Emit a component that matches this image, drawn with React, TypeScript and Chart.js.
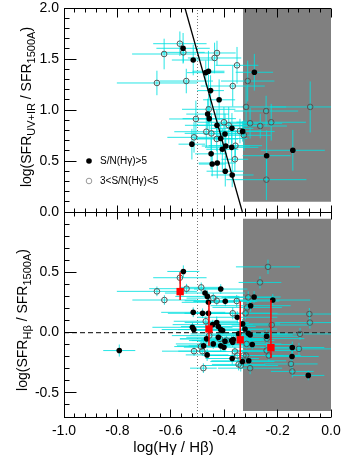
import React, { useEffect, useRef } from 'react';
import { Chart, registerables } from 'chart.js';

Chart.register(...registerables);

const FONT = '"Liberation Sans", Arial, Helvetica, sans-serif';

// ---------- axes ----------
const X_RANGE = [-1.0, 0.0];
const X_TICKS = [-1.0, -0.8, -0.6, -0.4, -0.2, 0.0];
const TOP_Y_RANGE = [0.0, 2.0];
const TOP_Y_TICKS = [0.0, 0.5, 1.0, 1.5, 2.0];
const BOT_Y_RANGE = [-0.7, 1.0];
const BOT_Y_TICKS = [-0.5, 0.0, 0.5];

const X_TITLE = 'log(Hγ / Hβ)';
const TOP_Y_TITLE = [
  ['log(SFR', false],
  ['UV+IR', true],
  [' / SFR', false],
  ['1500A', true],
  [')', false],
];
const BOT_Y_TITLE = [
  ['log(SFR', false],
  ['Hβ', true],
  [' / SFR', false],
  ['1500A', true],
  [')', false],
];
const LEGEND_LABELS = ['S/N(Hγ)>5', '3<S/N(Hγ)<5'];

// ---------- top panel: SFR(UV+IR)/SFR(1500) ----------
const TOP_HI_X = [-0.554, -0.516, -0.469, -0.459, -0.451, -0.419, -0.462, -0.456, -0.427, -0.413, -0.397, -0.371, -0.331, -0.521, -0.449, -0.445, -0.426, -0.407, -0.394, -0.372, -0.396, -0.370, -0.287, -0.241, -0.143];
const TOP_HI_Y = [1.605, 1.49, 1.366, 1.38, 1.19, 1.10, 0.96, 0.915, 0.85, 0.72, 0.765, 0.82, 0.79, 0.665, 0.57, 0.47, 0.48, 0.615, 0.647, 0.634, 0.40, 0.363, 1.37, 0.552, 0.605];
const TOP_HI_XERR = [0.10, 0.08, 0.07, 0.06, 0.05, 0.06, 0.08, 0.10, 0.12, 0.10, 0.08, 0.08, 0.12, 0.05, 0.06, 0.05, 0.07, 0.06, 0.09, 0.10, 0.07, 0.08, 0.07, 0.09, 0.12];
const TOP_HI_YERR = [0.15, 0.15, 0.12, 0.20, 0.15, 0.20, 0.15, 0.12, 0.15, 0.15, 0.20, 0.15, 0.10, 0.15, 0.15, 0.12, 0.15, 0.20, 0.12, 0.15, 0.15, 0.12, 0.18, 0.25, 0.20];

const TOP_LO_X = [-0.566, -0.625, -0.553, -0.652, -0.542, -0.436, -0.427, -0.352, -0.368, -0.312, -0.318, -0.243, -0.078, -0.303, -0.265, -0.224, -0.458, -0.506, -0.467, -0.448, -0.401, -0.383, -0.513, -0.428, -0.326, -0.341, -0.358, -0.360, -0.242];
const TOP_LO_Y = [1.65, 1.549, 1.565, 1.265, 1.284, 1.51, 1.559, 1.438, 1.235, 1.284, 1.03, 0.99, 1.03, 0.87, 0.843, 0.88, 1.007, 0.912, 0.787, 0.771, 0.88, 0.85, 0.732, 0.716, 0.752, 0.794, 0.65, 0.517, 0.317];
const TOP_LO_XERR = [0.10, 0.12, 0.08, 0.15, 0.10, 0.10, 0.07, 0.08, 0.12, 0.10, 0.15, 0.12, 0.15, 0.12, 0.10, 0.13, 0.10, 0.10, 0.12, 0.10, 0.10, 0.12, 0.10, 0.08, 0.10, 0.08, 0.10, 0.05, 0.15];
const TOP_LO_YERR = [0.12, 0.15, 0.10, 0.12, 0.12, 0.15, 0.12, 0.18, 0.20, 0.20, 0.20, 0.15, 0.25, 0.15, 0.12, 0.18, 0.15, 0.18, 0.15, 0.20, 0.15, 0.18, 0.15, 0.12, 0.15, 0.12, 0.15, 0.12, 0.20];

const TOP_FIT_X = [-0.547, -0.332];
const TOP_FIT_Y = [2.0, 0.0];
const TOP_GRAY = { x: [-0.33, 0.0], top: 2.0, bottom: 0.10 };
const BOT_GRAY = { x: [-0.33, 0.0], top: 0.945, bottom: -0.65 };
const VLINE_X = -0.5;
const HLINE_Y = 0.0;

// ---------- bottom panel: SFR(Hbeta)/SFR(1500) ----------
const BOT_HI_X = [-0.793, -0.553, -0.516, -0.519, -0.514, -0.477, -0.464, -0.472, -0.463, -0.459, -0.481, -0.459, -0.413, -0.396, -0.443, -0.428, -0.422, -0.413, -0.406, -0.422, -0.441, -0.413, -0.401, -0.397, -0.372, -0.366, -0.370, -0.351, -0.331, -0.322, -0.346, -0.332, -0.308, -0.301, -0.288, -0.303, -0.295, -0.241, -0.218, -0.145, -0.146, -0.085, -0.310, -0.466, -0.368];
const BOT_HI_Y = [-0.149, 0.507, 0.168, 0.044, 0.025, -0.110, -0.185, 0.328, 0.300, 0.251, 0.160, 0.160, 0.361, 0.259, 0.066, 0.083, 0.050, 0.025, 0.017, -0.039, -0.094, -0.110, -0.121, -0.072, -0.066, -0.058, -0.215, 0.127, 0.072, 0.030, -0.011, -0.240, -0.234, 0.223, 0.295, -0.019, -0.099, -0.030, 0.270, -0.124, -0.198, -0.355, -0.006, -0.052, -0.080];
const BOT_HI_XERR = [0.06, 0.06, 0.12, 0.15, 0.12, 0.10, 0.08, 0.15, 0.12, 0.10, 0.13, 0.09, 0.10, 0.12, 0.15, 0.12, 0.14, 0.16, 0.10, 0.12, 0.14, 0.12, 0.15, 0.10, 0.16, 0.12, 0.10, 0.15, 0.14, 0.12, 0.18, 0.12, 0.14, 0.15, 0.10, 0.16, 0.15, 0.12, 0.14, 0.12, 0.10, 0.06, 0.12, 0.10, 0.12];
const BOT_HI_YERR = [0.05, 0.05, 0.04, 0.04, 0.03, 0.04, 0.05, 0.04, 0.05, 0.04, 0.04, 0.04, 0.04, 0.04, 0.04, 0.05, 0.04, 0.04, 0.03, 0.04, 0.04, 0.05, 0.04, 0.04, 0.04, 0.04, 0.05, 0.05, 0.04, 0.04, 0.04, 0.05, 0.05, 0.05, 0.05, 0.04, 0.04, 0.05, 0.05, 0.05, 0.06, 0.04, 0.04, 0.04, 0.04];

const BOT_LO_X = [-0.652, -0.624, -0.566, -0.541, -0.486, -0.441, -0.428, -0.353, -0.368, -0.320, -0.314, -0.310, -0.266, -0.236, -0.222, -0.240, -0.241, -0.233, -0.116, -0.120, -0.081, -0.079, -0.145, -0.150, -0.478, -0.513, -0.487, -0.482, -0.469, -0.456, -0.416, -0.391, -0.360, -0.351, -0.346, -0.328, -0.303, -0.338, -0.316, -0.318];
const BOT_LO_Y = [0.342, 0.270, 0.455, 0.364, 0.375, 0.286, 0.264, 0.262, 0.160, 0.160, 0.209, 0.292, 0.416, 0.545, 0.063, -0.050, -0.149, -0.190, -0.011, -0.135, 0.154, 0.083, -0.322, -0.260, -0.295, -0.154, -0.116, -0.154, 0.094, -0.025, -0.052, -0.066, -0.157, -0.190, -0.264, -0.190, -0.295, -0.273, -0.094, -0.190];
const BOT_LO_XERR = [0.15, 0.12, 0.10, 0.14, 0.08, 0.10, 0.12, 0.16, 0.14, 0.12, 0.13, 0.10, 0.08, 0.12, 0.15, 0.14, 0.13, 0.12, 0.15, 0.12, 0.14, 0.13, 0.08, 0.10, 0.05, 0.12, 0.10, 0.09, 0.12, 0.14, 0.15, 0.13, 0.14, 0.12, 0.10, 0.15, 0.12, 0.14, 0.13, 0.12];
const BOT_LO_YERR = [0.04, 0.04, 0.05, 0.04, 0.04, 0.04, 0.04, 0.05, 0.05, 0.05, 0.05, 0.05, 0.05, 0.06, 0.05, 0.05, 0.05, 0.05, 0.05, 0.05, 0.05, 0.05, 0.05, 0.05, 0.04, 0.04, 0.04, 0.04, 0.04, 0.04, 0.04, 0.04, 0.04, 0.05, 0.05, 0.05, 0.05, 0.05, 0.04, 0.04];

// binned medians (red)
const BIN_X = [-0.565, -0.457, -0.340, -0.225];
const BIN_Y = [0.34, 0.03, -0.06, -0.125];
const BIN_LO = [0.27, -0.11, -0.23, -0.21];
const BIN_HI = [0.50, 0.26, 0.26, 0.27];

// ---------- helpers ----------
type P = { x: number | null; y: number | null };
const pts = (xs: number[], ys: number[]): P[] => xs.map((x, i) => ({ x, y: ys[i] }));
const errSegs = (xs: number[], ys: number[], xe: number[], ye: number[]): P[] => {
  const out: P[] = [];
  xs.forEach((x, i) => {
    const y = ys[i];
    out.push({ x: x - xe[i], y }, { x: x + xe[i], y }, { x: null, y: null });
    out.push({ x, y: y - ye[i] }, { x, y: y + ye[i] }, { x: null, y: null });
  });
  return out;
};
const vSegs = (xs: number[], lo: number[], hi: number[]): P[] => {
  const out: P[] = [];
  xs.forEach((x, i) => out.push({ x, y: lo[i] }, { x, y: hi[i] }, { x: null, y: null }));
  return out;
};
const fmt = (v: number) => (Math.abs(v) < 1e-9 ? 0 : v).toFixed(1);

const ERR_COLOR = 'rgba(0,225,225,0.85)';
const OPEN_COLOR = '#555';

const lineDs = (data: P[], extra: any) => ({
  type: 'line',
  data,
  showLine: true,
  pointRadius: 0,
  pointHoverRadius: 0,
  spanGaps: false,
  tension: 0,
  fill: false,
  ...extra,
});

const grayDs = (g: { x: number[]; top: number; bottom: number }) =>
  lineDs(
    [
      { x: g.x[0], y: g.top },
      { x: g.x[1], y: g.top },
    ],
    { borderWidth: 0, borderColor: 'rgba(0,0,0,0)', backgroundColor: '#808080', fill: { value: g.bottom }, order: 20 }
  );

const snap = (v: number) => Math.round(v - 0.5) + 0.5;

function drawFrame(chart: any, cfg: { top: 'down' | 'cross' | 'none'; bottom: 'up' | 'cross' | 'none'; yr: number[] }) {
  const { ctx, chartArea: a } = chart;
  const xs = chart.scales.x;
  const ys = chart.scales.y;
  ctx.save();
  ctx.strokeStyle = '#000';
  ctx.lineWidth = 1;
  const seg = (x1: number, y1: number, x2: number, y2: number) => {
    ctx.beginPath();
    ctx.moveTo(x1, y1);
    ctx.lineTo(x2, y2);
    ctx.stroke();
  };
  const L = snap(a.left);
  const T = snap(a.top);
  const B = snap(a.bottom);
  seg(L, a.top, L, a.bottom + 0.5);
  if (cfg.top !== 'none') seg(a.left, T, a.right, T);
  if (cfg.bottom !== 'none') seg(a.left, B, a.right, B);
  const k0 = Math.round(cfg.yr[0] * 10);
  const k1 = Math.round(cfg.yr[1] * 10);
  for (let k = k0; k <= k1; k++) {
    const py = snap(ys.getPixelForValue(k / 10));
    const major = k % 5 === 0;
    seg(L, py, L + (major ? 12 : 5), py);
  }
  for (let k = 0; k <= 25; k++) {
    const v = X_RANGE[0] + k * 0.04;
    const px = snap(xs.getPixelForValue(v));
    const major = k % 5 === 0;
    if (cfg.top === 'down') seg(px, T, px, T + (major ? 9 : 4));
    if (cfg.bottom === 'cross') seg(px, B - (major ? 7 : 4), px, B + (major ? 7 : 4));
    if (cfg.bottom === 'up') seg(px, B, px, B - (major ? 8 : 4));
  }
  ctx.restore();
}

function drawYTitle(chart: any, parts: any[], baselineX: number, centerY: number) {
  const { ctx } = chart;
  const mainF = `14px ${FONT}`;
  const subF = `11px ${FONT}`;
  ctx.save();
  let total = 0;
  parts.forEach(([t, sub]) => {
    ctx.font = sub ? subF : mainF;
    total += ctx.measureText(t).width;
  });
  ctx.translate(baselineX, centerY);
  ctx.rotate(-Math.PI / 2);
  ctx.fillStyle = '#000';
  ctx.textBaseline = 'alphabetic';
  ctx.textAlign = 'left';
  let x = -total / 2;
  parts.forEach(([t, sub]) => {
    ctx.font = sub ? subF : mainF;
    ctx.fillText(t, x, sub ? 3.5 : 0);
    x += ctx.measureText(t).width;
  });
  ctx.restore();
}

const TOP_OFFSET = -12;
const BOT_OFFSET = 192;

const yScale = (range: number[], ticks: number[]) => ({
  type: 'linear',
  min: range[0],
  max: range[1],
  afterFit: (s: any) => {
    s.width = 64;
  },
  afterBuildTicks: (s: any) => {
    s.ticks = ticks.map((v) => ({ value: v }));
  },
  ticks: {
    padding: 5,
    color: '#000',
    font: { family: FONT, size: 14, lineHeight: 1 },
    callback: (v: number) => fmt(v),
    autoSkip: false,
  },
  grid: { display: false, drawTicks: false },
  border: { display: false },
});

export default function App() {
  const topRef = useRef<HTMLCanvasElement>(null);
  const botRef = useRef<HTMLCanvasElement>(null);

  useEffect(() => {
    const topPlugin = {
      id: 'topDecor',
      afterDatasetsDraw(chart: any) {
        drawFrame(chart, { top: 'down', bottom: 'cross', yr: TOP_Y_RANGE });
      },
      afterDraw(chart: any) {
        const a = chart.chartArea;
        drawYTitle(chart, TOP_Y_TITLE, 31, (a.top + a.bottom) / 2 - 3);
        const { ctx } = chart;
        ctx.save();
        const lx = 89;
        const ly1 = 161 - TOP_OFFSET;
        const ly2 = 181 - TOP_OFFSET;
        ctx.fillStyle = '#000';
        ctx.beginPath();
        ctx.arc(lx, ly1, 2.8, 0, Math.PI * 2);
        ctx.fill();
        ctx.strokeStyle = '#999';
        ctx.lineWidth = 1;
        ctx.beginPath();
        ctx.arc(lx, ly2, 2.8, 0, Math.PI * 2);
        ctx.stroke();
        ctx.font = `10px ${FONT}`;
        ctx.textBaseline = 'middle';
        ctx.textAlign = 'left';
        ctx.fillText(LEGEND_LABELS[0], 100, ly1);
        ctx.fillText(LEGEND_LABELS[1], 100, ly2);
        ctx.restore();
      },
    };

    const botPlugin = {
      id: 'botDecor',
      afterDatasetsDraw(chart: any) {
        drawFrame(chart, { top: 'cross', bottom: 'up', yr: BOT_Y_RANGE });
      },
      afterDraw(chart: any) {
        const a = chart.chartArea;
        drawYTitle(chart, BOT_Y_TITLE, 27, (a.top + a.bottom) / 2 + 5.5);
        const { ctx } = chart;
        ctx.save();
        ctx.font = `15px ${FONT}`;
        ctx.fillStyle = '#000';
        ctx.textAlign = 'center';
        ctx.textBaseline = 'middle';
        ctx.fillText(X_TITLE, chart.scales.x.getPixelForValue(-0.59), 448 - BOT_OFFSET);
        ctx.restore();
      },
    };

    const common = {
      responsive: false,
      animation: false,
      events: [],
      plugins: { legend: { display: false }, tooltip: { enabled: false } },
    };

    const top = new Chart(topRef.current!, {
      type: 'scatter',
      data: {
        datasets: [
          grayDs(TOP_GRAY),
          lineDs(
            [
              { x: VLINE_X, y: TOP_Y_RANGE[0] },
              { x: VLINE_X, y: TOP_Y_RANGE[1] },
            ],
            { borderColor: '#777', borderWidth: 1, borderDash: [1, 2], order: 15 }
          ),
          lineDs(errSegs(TOP_LO_X, TOP_LO_Y, TOP_LO_XERR, TOP_LO_YERR), { borderColor: ERR_COLOR, borderWidth: 1, order: 12 }),
          lineDs(errSegs(TOP_HI_X, TOP_HI_Y, TOP_HI_XERR, TOP_HI_YERR), { borderColor: ERR_COLOR, borderWidth: 1, order: 11 }),
          lineDs(pts(TOP_FIT_X, TOP_FIT_Y), { borderColor: '#000', borderWidth: 1.3, order: 6 }),
          {
            type: 'scatter',
            data: pts(TOP_LO_X, TOP_LO_Y),
            pointRadius: 2.8,
            pointBackgroundColor: 'rgba(0,0,0,0)',
            pointBorderColor: OPEN_COLOR,
            pointBorderWidth: 1,
            order: 5,
          },
          {
            type: 'scatter',
            data: pts(TOP_HI_X, TOP_HI_Y),
            pointRadius: 2.8,
            pointBackgroundColor: '#000',
            pointBorderColor: '#000',
            pointBorderWidth: 0,
            order: 4,
          },
        ] as any,
      },
      options: {
        ...common,
        layout: { padding: { left: 0, right: 20, top: 20, bottom: 20 } },
        scales: {
          x: { type: 'linear', min: X_RANGE[0], max: X_RANGE[1], display: false },
          y: yScale(TOP_Y_RANGE, TOP_Y_TICKS),
        },
      } as any,
      plugins: [topPlugin],
    });

    const bot = new Chart(botRef.current!, {
      type: 'scatter',
      data: {
        datasets: [
          grayDs(BOT_GRAY),
          lineDs(
            [
              { x: VLINE_X, y: BOT_Y_RANGE[0] },
              { x: VLINE_X, y: BOT_Y_RANGE[1] },
            ],
            { borderColor: '#777', borderWidth: 1, borderDash: [1, 2], order: 15 }
          ),
          lineDs(errSegs(BOT_LO_X, BOT_LO_Y, BOT_LO_XERR, BOT_LO_YERR), { borderColor: ERR_COLOR, borderWidth: 1, order: 12 }),
          lineDs(errSegs(BOT_HI_X, BOT_HI_Y, BOT_HI_XERR, BOT_HI_YERR), { borderColor: ERR_COLOR, borderWidth: 1, order: 11 }),
          lineDs(
            [
              { x: X_RANGE[0], y: HLINE_Y },
              { x: X_RANGE[1], y: HLINE_Y },
            ],
            { borderColor: '#333', borderWidth: 1.3, borderDash: [5, 3], order: 10 }
          ),
          {
            type: 'scatter',
            data: pts(BOT_LO_X, BOT_LO_Y),
            pointRadius: 2.8,
            pointBackgroundColor: 'rgba(0,0,0,0)',
            pointBorderColor: OPEN_COLOR,
            pointBorderWidth: 1,
            order: 5,
          },
          {
            type: 'scatter',
            data: pts(BOT_HI_X, BOT_HI_Y),
            pointRadius: 2.8,
            pointBackgroundColor: '#000',
            pointBorderColor: '#000',
            pointBorderWidth: 0,
            order: 4,
          },
          lineDs(vSegs(BIN_X, BIN_LO, BIN_HI), { borderColor: '#f00', borderWidth: 1.5, order: 3 }),
          {
            type: 'scatter',
            data: pts(BIN_X, BIN_Y),
            pointStyle: 'rect',
            pointRadius: 5.2,
            pointBackgroundColor: '#f00',
            pointBorderColor: '#f00',
            pointBorderWidth: 0,
            order: 2,
          },
        ] as any,
      },
      options: {
        ...common,
        layout: { padding: { left: 0, right: 20, top: 20, bottom: 0 } },
        scales: {
          x: {
            type: 'linear',
            min: X_RANGE[0],
            max: X_RANGE[1],
            afterFit: (s: any) => {
              s.height = 40;
            },
            afterBuildTicks: (s: any) => {
              s.ticks = X_TICKS.map((v) => ({ value: v }));
            },
            ticks: {
              padding: 7,
              color: '#000',
              font: { family: FONT, size: 14, lineHeight: 1 },
              callback: (v: number) => fmt(v),
              autoSkip: false,
              maxRotation: 0,
            },
            grid: { display: false, drawTicks: false },
            border: { display: false },
          },
          y: yScale(BOT_Y_RANGE, BOT_Y_TICKS),
        },
      } as any,
      plugins: [botPlugin],
    });

    return () => {
      top.destroy();
      bot.destroy();
    };
  }, []);

  return (
    <div style={{ position: 'fixed', left: 0, top: 0, width: 343, height: 457, overflow: 'hidden', background: '#fff' }}>
      <canvas ref={topRef} width={351} height={244} style={{ position: 'absolute', left: 0, top: TOP_OFFSET, width: 351, height: 244 }} />
      <canvas ref={botRef} width={351} height={265} style={{ position: 'absolute', left: 0, top: BOT_OFFSET, width: 351, height: 265 }} />
    </div>
  );
}
